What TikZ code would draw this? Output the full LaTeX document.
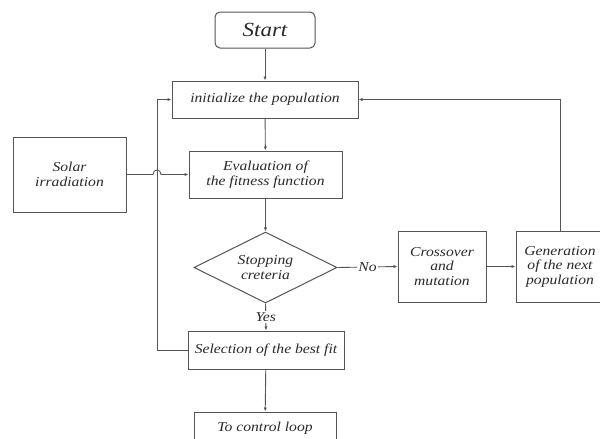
\documentclass[tikz,border=0pt]{standalone}
\usepackage{fontspec}
\setmainfont{Liberation Serif}[FakeStretch=1.15]
\usetikzlibrary{shapes.geometric,arrows.meta}
\definecolor{linec}{HTML}{555555}
\definecolor{textc}{HTML}{2A2A2A}
\begin{document}
\begin{tikzpicture}[x=1pt,y=-1pt,
  box/.style={draw=linec,line width=1pt,rectangle,inner sep=0pt,align=center,
    text=textc,font=\fontsize{13.6}{14.5}\selectfont\itshape},
  decision/.style={box,diamond,aspect=2},
  arr/.style={draw=linec,line width=0.9pt,-{Latex[length=4pt,width=3.2pt]}},
  lbl/.style={fill=white,inner sep=1pt,text=textc,font=\fontsize{13.6}{14.5}\selectfont\itshape}]
\useasboundingbox (0,0) rectangle (600,439);
\fill[white] (0,0) rectangle (600,439);

\node[box,rounded corners=5pt,minimum width=100pt,minimum height=36pt,
  font=\fontsize{20}{22}\selectfont\itshape] (start) at (265,30) {Start};
\node[box,minimum width=186pt,minimum height=37pt] (init) at (265,99.5) {initialize the population};
\node[box,minimum width=153pt,minimum height=47pt] (eval) at (265.5,174.5) {Evaluation of\\the fitness function};
\node[box,minimum width=113pt,minimum height=75pt] (solar) at (69.5,174.5) {Solar\\irradiation};
\node[decision,minimum width=143pt,minimum height=71pt] (stop) at (265.5,267.5) {Stopping\\creteria};
\node[box,minimum width=88pt,minimum height=71pt] (cross) at (442,266.5) {Crossover\\and\\mutation};
\node[box,minimum width=88pt,minimum height=71pt] (gen) at (560,266.5) {Generation\\of the next\\population};
\node[box,minimum width=156pt,minimum height=38pt] (sel) at (266,350) {Selection of the best fit};
\node[box,minimum width=142pt,minimum height=32pt] (ctrl) at (265,428) {To control loop};

\coordinate (lb) at (157,350);
\coordinate (lt) at (157,99.5);
\coordinate (rt) at (560,99.5);
\coordinate (j1) at (153,174.5);
\coordinate (j2) at (161,174.5);

\draw[arr] (start) -- (init);
\draw[arr] (init) -- (eval);
\draw[arr] (eval) -- (stop);
\draw[arr] (stop.south) -- node[lbl]{Yes} (sel.north);
\draw[arr] (stop.east) -- node[lbl]{No} (cross.west);
\draw[arr] (cross) -- (gen);
\draw[arr] (gen.north) -- (rt) -- (init.east);
\draw[arr] (sel.west) -- (lb) -- (lt) -- (init.west);
\draw[arr] (sel) -- (ctrl);
\draw[arr] (solar.east) -- (j1) .. controls (153,168.5) and (161,168.5) .. (j2) -- (eval.west);
\end{tikzpicture}
\end{document}
